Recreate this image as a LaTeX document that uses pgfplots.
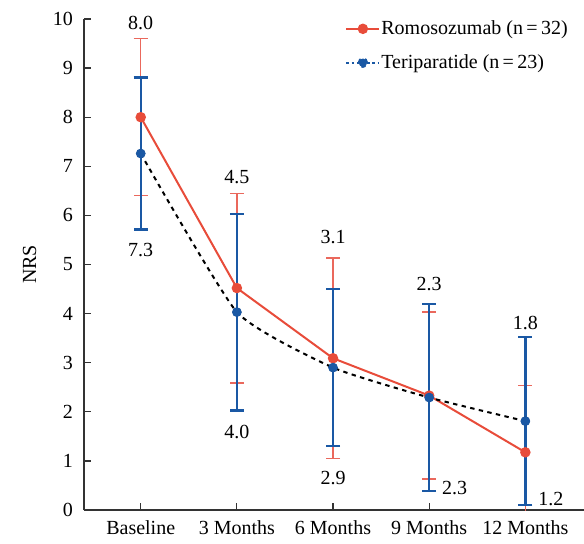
\documentclass[border=0pt]{standalone}
\usepackage{fontspec}
\setmainfont{Liberation Serif}
\usepackage{pgfplots}
\pgfplotsset{compat=1.18}
\usetikzlibrary{calc}

\definecolor{romo}{RGB}{232,76,58}
\definecolor{romobar}{RGB}{234,104,92}
\definecolor{teri}{RGB}{26,88,164}

\begin{document}
\begin{tikzpicture}
\begin{axis}[
  name=ax,
  scale only axis,
  width=250pt, height=245.5pt,
  xmin=-0.59, xmax=4.61,
  ymin=0, ymax=10,
  axis x line*=bottom, axis y line*=left,
  axis line style={-, black!80, line width=0.6pt},
  tick align=inside,
  major tick length=3.5pt,
  tick style={black!80, line width=0.6pt},
  xtick={0,1,2,3,4},
  xticklabels={Baseline,3 Months,6 Months,9 Months,12 Months},
  ytick={0,1,...,10},
  /pgf/number format/assume math mode=true,
  ticklabel style={font=\fontsize{10}{12}\selectfont},
  yticklabel style={xshift=-2pt},
  xticklabel style={yshift=-2pt},
  ylabel={NRS},
  ylabel shift=1.5pt,
  ylabel style={font=\fontsize{10}{12}\selectfont},
  clip mode=individual,
  legend style={at={(rel axis cs:0.522,1.0)}, anchor=north west,
    draw=none, fill=none, inner sep=0pt, row sep=7.5pt, column sep=0pt,
    font=\fontsize{10}{12}\selectfont,
    nodes={inner sep=0.5pt}},
  legend cell align=left,
]

% error bars, Romosozumab
\addplot[forget plot, only marks, mark=none,
  error bars/.cd, y dir=both, y explicit,
  error bar style={romobar, line width=0.7pt},
  error mark options={rotate=90, romobar, mark size=3.5pt, line width=0.7pt}
] coordinates {
  (0, 8.00) +- (0,1.60)
  (1, 4.52) +- (0,1.93)
  (2, 3.09) +- (0,2.04)
  (3, 2.33) +- (0,1.70)
  (4, 1.175) +- (0,1.355)
};

% error bars, Teriparatide
\addplot[forget plot, only marks, mark=none,
  error bars/.cd, y dir=both, y explicit,
  error bar style={teri, line width=1.2pt},
  error mark options={rotate=90, teri, mark size=3.5pt, line width=1.2pt}
] coordinates {
  (0, 7.26) +- (0,1.55)
  (1, 4.03) +- (0,2.00)
  (2, 2.90) +- (0,1.60)
  (3, 2.29) +- (0,1.90)
  (4, 1.81) +- (0,1.71)
};

\addplot[romo, line width=1pt, mark=*, mark size=2.1pt,
  mark options={solid, fill=romo, draw=romo},
  legend image code/.code={
    \draw[romo, line width=1pt] (0pt,0pt) -- (16.5pt,0pt);
    \fill[romo] (8.25pt,0pt) circle (2.1pt);}
] coordinates {
  (0, 8.00) (1, 4.52) (2, 3.09) (3, 2.33) (4, 1.175)
};
\addlegendentry{Romosozumab (n\,=\,32)}

\addplot[black, line width=1pt, dash pattern=on 2.2pt off 2.2pt, smooth, tension=0.3,
  mark=*, mark size=1.9pt, mark options={solid, fill=teri, draw=teri},
  legend image code/.code={
    \draw[teri, line width=1pt, dash pattern=on 1.2pt off 1.4pt] (0pt,0pt) -- (16.5pt,0pt);
    \fill[teri] (8.25pt,0pt) circle (2.1pt);}
] coordinates {
  (0, 7.26) (1, 4.03) (2, 2.90) (3, 2.29) (4, 1.81)
};
\addlegendentry{Teriparatide (n\,=\,23)}

\begin{scope}[font=\fontsize{10}{12}\selectfont, inner sep=0pt]
\node at (axis cs:0,9.91) {8.0};
\node at (axis cs:0,5.30) {7.3};
\node at (axis cs:1,6.78) {4.5};
\node at (axis cs:1,1.59) {4.0};
\node at (axis cs:2,5.56) {3.1};
\node at (axis cs:2,0.65) {2.9};
\node at (axis cs:3,4.60) {2.3};
\node[anchor=west] at (axis cs:3.13,0.45) {2.3};
\node at (axis cs:4,3.81) {1.8};
\node[anchor=west] at (axis cs:4.13,0.22) {1.2};
\end{scope}
\end{axis}
\pgfresetboundingbox
\path[use as bounding box] ($(ax.south west)+(-42pt,-16.5pt)$) rectangle ($(ax.north east)+(0pt,9.5pt)$);
\end{tikzpicture}
\end{document}
